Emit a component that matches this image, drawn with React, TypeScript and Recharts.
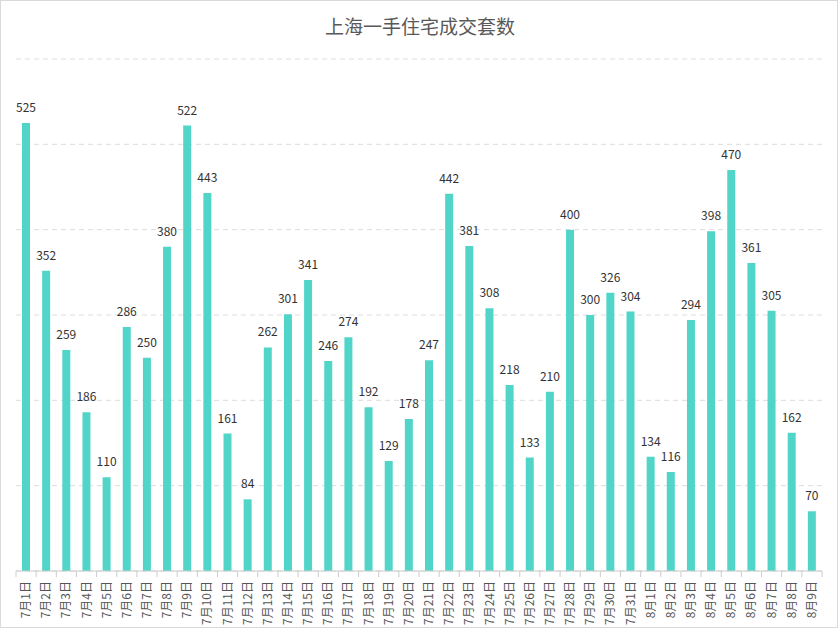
import React from 'react';
import { BarChart, Bar, XAxis, YAxis, CartesianGrid, LabelList } from 'recharts';

const days = [
  '7月1日', '7月2日', '7月3日', '7月4日', '7月5日', '7月6日', '7月7日', '7月8日', '7月9日', '7月10日',
  '7月11日', '7月12日', '7月13日', '7月14日', '7月15日', '7月16日', '7月17日', '7月18日', '7月19日', '7月20日',
  '7月21日', '7月22日', '7月23日', '7月24日', '7月25日', '7月26日', '7月27日', '7月28日', '7月29日', '7月30日',
  '7月31日', '8月1日', '8月2日', '8月3日', '8月4日', '8月5日', '8月6日', '8月7日', '8月8日', '8月9日',
];

const sales = [
  525, 352, 259, 186, 110, 286, 250, 380, 522, 443,
  161, 84, 262, 301, 341, 246, 274, 192, 129, 178,
  247, 442, 381, 308, 218, 133, 210, 400, 300, 326,
  304, 134, 116, 294, 398, 470, 361, 305, 162, 70,
];

const yTicks = [0, 100, 200, 300, 400, 500, 600];

const data = days.map((day, i) => ({ day, value: sales[i] }));

const FONT = '"Noto Sans CJK SC", "Microsoft YaHei", sans-serif';
const BAR_COLOR = '#52d5c9';

const WIDTH = 838;
const HEIGHT = 628;
const MARGIN = { top: 59, right: 16, left: 16, bottom: 0 };
const BAND = (WIDTH - MARGIN.left - MARGIN.right) / days.length;

// rotated day label plus a small tick at each category boundary
const DayTick = (props: any) => {
  const { x, y, payload, index } = props;
  const left = x - BAND / 2;
  return (
    <g>
      <line x1={left} y1={y - 8} x2={left} y2={y - 2} stroke="#ccc" />
      {index === days.length - 1 && (
        <line x1={left + BAND} y1={y - 8} x2={left + BAND} y2={y - 2} stroke="#ccc" />
      )}
      <text
        x={0}
        y={0}
        transform={`translate(${x + 4}, ${y + 2}) rotate(-90)`}
        textAnchor="end"
        fontSize={12}
        fill="#555"
        fontFamily={FONT}
      >
        {payload.value}
      </text>
    </g>
  );
};

export default function App() {
  return (
    <div
      style={{
        position: 'absolute',
        left: 0,
        top: 0,
        width: WIDTH,
        height: HEIGHT,
        boxSizing: 'border-box',
        border: '1px solid #d9d9d9',
        background: '#fff',
        overflow: 'hidden',
      }}
    >
      <div
        style={{
          position: 'absolute',
          top: 13,
          left: 0,
          width: WIDTH,
          textAlign: 'center',
          fontSize: 19,
          color: '#595959',
          fontFamily: FONT,
          lineHeight: '24px',
        }}
      >
        上海一手住宅成交套数
      </div>
      <div style={{ position: 'absolute', left: -1, top: -1 }}>
        <BarChart width={WIDTH} height={HEIGHT} data={data} margin={MARGIN} barCategoryGap={0}>
          <CartesianGrid vertical={false} stroke="#dcdcdc" strokeDasharray="5 4" />
          <XAxis
            dataKey="day"
            interval={0}
            height={57}
            tickLine={false}
            axisLine={{ stroke: '#ccc' }}
            tick={<DayTick />}
          />
          <YAxis hide domain={[0, 600]} ticks={yTicks} />
          <Bar dataKey="value" fill={BAR_COLOR} barSize={8} isAnimationActive={false}>
            <LabelList
              dataKey="value"
              position="top"
              offset={11}
              fill="#333"
              fontSize={12}
              fontFamily={FONT}
            />
          </Bar>
        </BarChart>
      </div>
    </div>
  );
}
